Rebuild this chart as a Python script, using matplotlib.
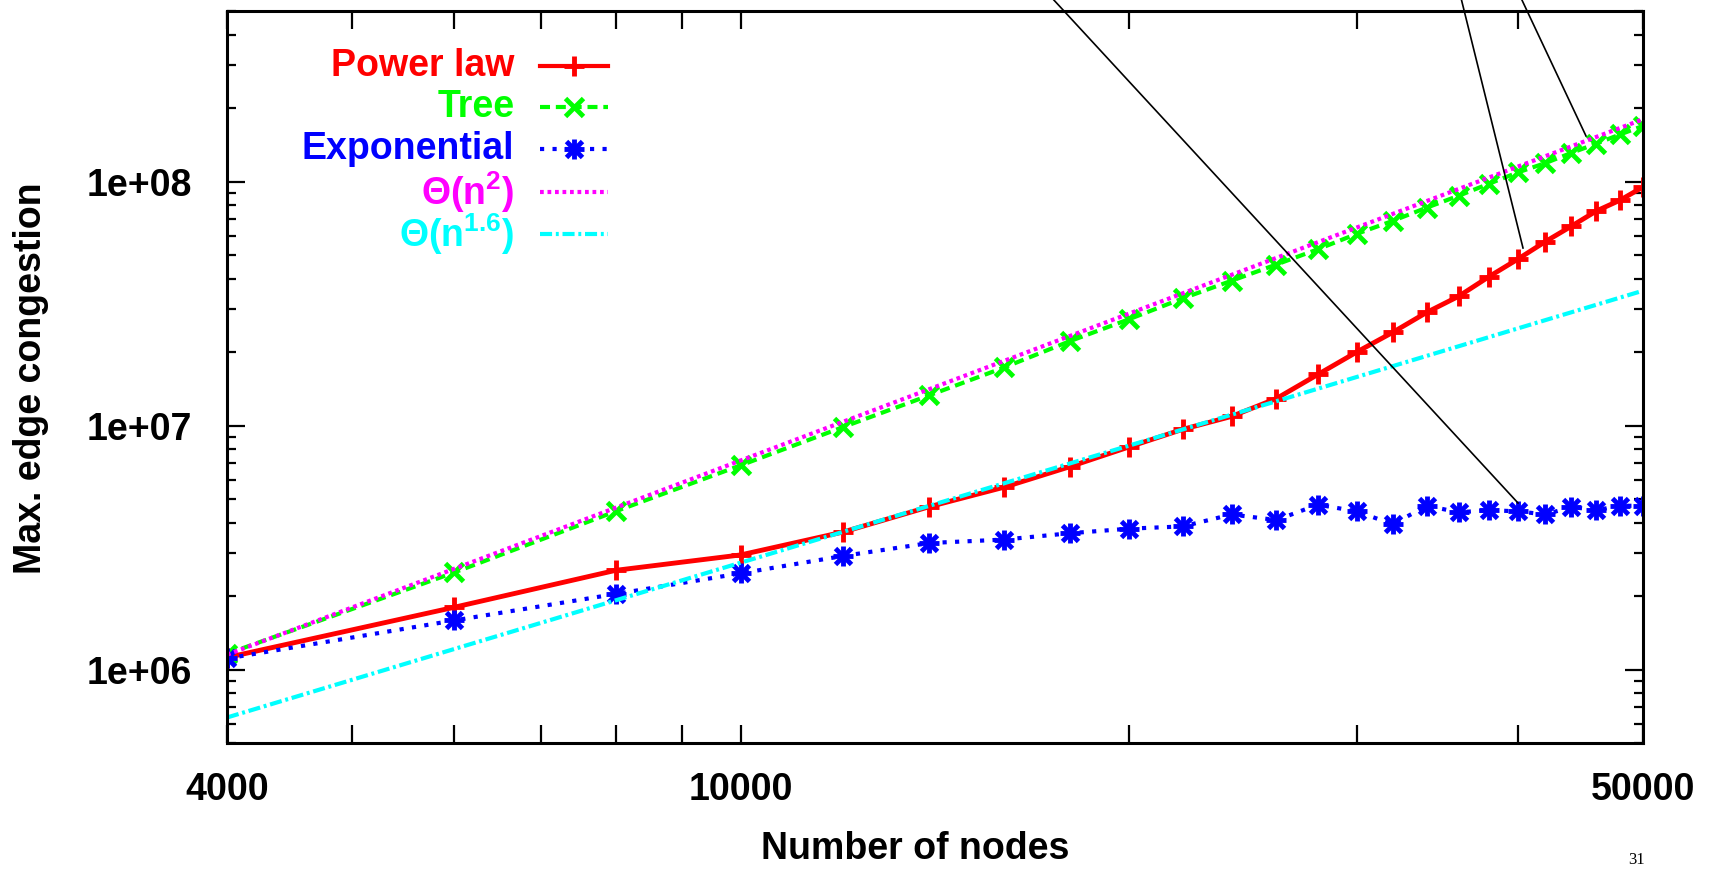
import numpy as np
import matplotlib
matplotlib.use('Agg')
import matplotlib.pyplot as plt
from matplotlib.lines import Line2D

plt.rcParams['font.family'] = ['Liberation Sans', 'DejaVu Sans']
plt.rcParams['font.weight'] = 'bold'
plt.rcParams['mathtext.fontset'] = 'custom'
plt.rcParams['mathtext.rm'] = 'Liberation Sans:bold'
plt.rcParams['mathtext.it'] = 'Liberation Sans:bold'
plt.rcParams['mathtext.bf'] = 'Liberation Sans:bold'

# number of nodes
nodes = [4000, 6000, 8000, 10000, 12000, 14000, 16000, 18000, 20000, 22000,
         24000, 26000, 28000, 30000, 32000, 34000, 36000, 38000, 40000, 42000,
         44000, 46000, 48000, 50000]

# max. edge congestion
power_law = [1.12e6, 1.80e6, 2.55e6, 2.95e6, 3.66e6, 4.65e6, 5.59e6, 6.79e6,
             8.18e6, 9.65e6, 1.09e7, 1.29e7, 1.62e7, 2.00e7, 2.41e7, 2.91e7,
             3.39e7, 4.08e7, 4.81e7, 5.67e7, 6.56e7, 7.57e7, 8.39e7, 9.50e7]
tree = [1.16e6, 2.50e6, 4.45e6, 6.87e6, 9.85e6, 1.33e7, 1.73e7, 2.22e7,
        2.73e7, 3.32e7, 3.92e7, 4.57e7, 5.28e7, 6.10e7, 6.90e7, 7.82e7,
        8.75e7, 9.80e7, 1.09e8, 1.19e8, 1.31e8, 1.43e8, 1.56e8, 1.69e8]
expo = [1.11e6, 1.59e6, 2.04e6, 2.48e6, 2.92e6, 3.30e6, 3.41e6, 3.62e6,
        3.78e6, 3.86e6, 4.32e6, 4.10e6, 4.74e6, 4.45e6, 3.94e6, 4.69e6,
        4.41e6, 4.50e6, 4.45e6, 4.32e6, 4.64e6, 4.50e6, 4.69e6, 4.69e6]

# reference curves (straight on log-log), end points
theta2_x = [4000, 50000]
theta2_y = [1.15e6, 1.80e8]
theta16_x = [4000, 50000]
theta16_y = [6.36e5, 3.57e7]

labels = ['Power law', 'Tree', 'Exponential', 'Θ(n$^{2}$)', 'Θ(n$^{1.6}$)']
colors = ['#ff0000', '#00ff00', '#0000ff', '#ff00ff', '#00ffff']

W, H = 1719, 869
fig = plt.figure(figsize=(W / 100, H / 100), dpi=100)
ax = fig.add_axes([227 / W, 1 - 743 / H, 1416 / W, 732 / H])

lw = 3
ms = 15
mew = 3.5
lstyles = ['-', (0, (2.4, 1.4)), (0, (1, 2)), (0, (0.9, 0.9)), (0, (2.9, 0.9, 0.7, 0.9))]

ax.plot(nodes, power_law, color=colors[0], lw=3.5, ls=lstyles[0], marker='+', ms=ms, mew=mew)
ax.plot(nodes, tree, color=colors[1], lw=lw, ls=lstyles[1], marker='x', ms=ms * 0.9, mew=mew)
ax.plot(nodes, expo, color=colors[2], lw=lw, ls=lstyles[2], marker='+', ms=ms, mew=mew)
ax.plot(nodes, expo, color=colors[2], lw=0, marker='x', ms=ms * 0.8, mew=mew)
ax.plot(theta2_x, theta2_y, color=colors[3], lw=lw, ls=lstyles[3])
ax.plot(theta16_x, theta16_y, color=colors[4], lw=lw, ls=lstyles[4])

ax.set_xscale('log')
ax.set_yscale('log')
ax.set_xlim(4000, 50000)
ax.set_ylim(5e5, 5e8)

ax.set_xticks([4000, 10000, 50000], ['4000', '10000', '50000'])
ax.set_xticks([5000, 6000, 7000, 8000, 9000, 20000, 30000, 40000], minor=True)
ax.xaxis.set_minor_formatter(plt.NullFormatter())
ax.set_yticks([1e6, 1e7, 1e8], ['1e+06', '1e+07', '1e+08'])
ymin = [k * 10 ** e for e in (5, 6, 7, 8) for k in range(2, 10)]
ymin = [v for v in ymin if 5e5 <= v <= 5e8]
ax.set_yticks(ymin, minor=True)
ax.yaxis.set_minor_formatter(plt.NullFormatter())

ax.tick_params(axis='both', which='both', direction='in', top=True, right=True,
               width=1.6, labelsize=27)
ax.tick_params(axis='x', which='both', length=13, pad=21)
ax.tick_params(axis='y', which='major', length=13, pad=25)
ax.tick_params(axis='y', which='minor', length=6.5)
for s in ax.spines.values():
    s.set_linewidth(2.2)

fig.text(915 / W, 1 - 849 / H, 'Number of nodes', ha='center', va='center', fontsize=27)
fig.text(31 / W, 1 - 378 / H, 'Max. edge congestion', ha='center', va='center',
         rotation=90, fontsize=27)

# key, drawn by hand so the text is right aligned like gnuplot
rows = [0.925, 0.869, 0.812, 0.753, 0.695]
tx, l0, l1 = 0.203, 0.221, 0.269
for i, (lab, c, yy) in enumerate(zip(labels, colors, rows)):
    ax.text(tx, yy, lab, transform=ax.transAxes, ha='right', va='center',
            color=c, fontsize=27)
    ax.plot([l0, l1], [yy, yy], transform=ax.transAxes, color=c, lw=lw, ls=lstyles[i])
    mid = (l0 + l1) / 2
    if i == 0:
        ax.plot([mid], [yy], transform=ax.transAxes, color=c, marker='+', ms=ms, mew=mew)
    if i == 1:
        ax.plot([mid], [yy], transform=ax.transAxes, color=c, marker='x', ms=ms * 0.9, mew=mew)
    if i == 2:
        ax.plot([mid], [yy], transform=ax.transAxes, color=c, marker='+', ms=ms, mew=mew)
        ax.plot([mid], [yy], transform=ax.transAxes, color=c, marker='x', ms=ms * 0.8, mew=mew)

# callout lines coming in from outside the plot
callouts = [((1052, -2), (1518, 503)), ((1461, -2), (1523, 248)), ((1521, -2), (1586, 136))]
for (x0, y0), (x1, y1) in callouts:
    fig.add_artist(Line2D([x0 / W, x1 / W], [1 - y0 / H, 1 - y1 / H], color='black', lw=1.2))

# page number, sits right at the bottom edge
fig.text(1636 / W, 1 / H, '31', ha='center', va='bottom', fontsize=12,
         family='Liberation Serif', weight='normal')

fig.savefig('out.png', dpi=100)
